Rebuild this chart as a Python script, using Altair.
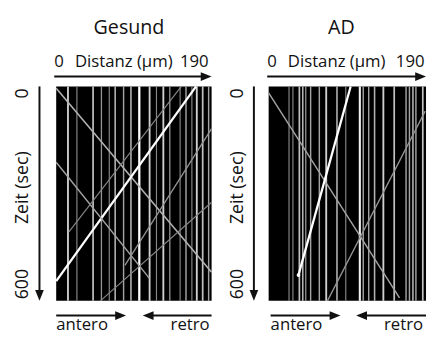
import altair as alt
import pandas as pd

FONT = "Open Sans"

panel_titles = ["Gesund", "AD"]
x_label_parts = ["0", "Distanz (µm)", "190"]
y_label_parts = ["0", "Zeit (sec)", "600"]
dir_labels = ["antero", "retro"]

dist_max = 190
time_max = 600

# stationary tracks (vertical lines): position in µm and relative intensity
gesund_stat_x = [14.4, 25.3, 45.1, 55.3, 64.9, 72.1, 82.4, 91.4, 101.6, 114.2,
                 122.6, 131.0, 138.9, 151.5, 158.7, 165.9, 171.9, 179.1, 186.4]
gesund_stat_int = [0.85, 0.6, 0.8, 0.65, 0.6, 0.75, 0.7, 0.75, 1.0, 0.85,
                   0.6, 0.85, 0.65, 0.6, 0.7, 0.6, 0.85, 0.8, 0.7]

ad_stat_x = [24.6, 29.3, 37.1, 41.2, 44.8, 50.7, 61.2, 69.5, 82.5, 93.1, 110.1,
             114.2, 120.8, 127.9, 138.5, 151.6, 165.9, 170.0, 174.2, 177.8, 186.1]
ad_stat_int = [0.6, 0.6, 0.8, 0.75, 0.65, 0.7, 0.7, 0.85, 0.75, 0.6, 0.95,
               0.7, 0.7, 0.75, 0.85, 0.8, 0.7, 0.7, 0.75, 0.7, 0.8]

# moving tracks (diagonal lines): start/end distance (µm) and time (s)
gesund_move_x0 = [0, 0, 0, 15.6, 190, 190]
gesund_move_t0 = [5, 545, 212, 407, 118, 324]
gesund_move_x1 = [190, 171, 114, 153, 84, 54]
gesund_move_t1 = [520, 0, 537, 0, 501, 600]
gesund_move_int = [0.75, 1.0, 0.7, 0.6, 0.65, 0.6]

ad_move_x0 = [0, 36, 189]
ad_move_t0 = [18, 528, 69]
ad_move_x1 = [158, 99, 71]
ad_move_t1 = [592, 0, 600]
ad_move_int = [0.7, 1.0, 0.65]

# visible particle at the start of the bright AD track
ad_spot_x = [ad_move_x0[1]]
ad_spot_t = [ad_move_t0[1]]


def stat_df(xs, ints):
    return pd.DataFrame({"x": xs, "t0": [0] * len(xs), "t1": [time_max] * len(xs), "intensity": ints})


def move_df(x0, t0, x1, t1, ints):
    return pd.DataFrame({"x0": x0, "t0": t0, "x1": x1, "t1": t1, "intensity": ints})


dummy = pd.DataFrame({"d": [0]})

RIGHT_ARROW = "M -1 -0.8 L 1 0 L -1 0.8 Z"
LEFT_ARROW = "M 1 -0.8 L -1 0 L 1 0.8 Z"
DOWN_ARROW = "M -0.8 -1 L 0 1 L 0.8 -1 Z"


def txt(s, x, y, size=17, align="left", angle=0):
    return alt.Chart(dummy).mark_text(
        text=s, align=align, baseline="alphabetic", fontSize=size, font=FONT,
        angle=angle, color="#111111"
    ).encode(x=alt.value(x), y=alt.value(y))


def seg(x1, y1, x2, y2):
    return alt.Chart(dummy).mark_rule(color="#111111", strokeWidth=2).encode(
        x=alt.value(x1), y=alt.value(y1), x2=alt.value(x2), y2=alt.value(y2))


def head(shape, x, y, size=121):
    return alt.Chart(dummy).mark_point(
        shape=shape, size=size, filled=True, color="#111111", opacity=1, strokeWidth=0
    ).encode(x=alt.value(x), y=alt.value(y))


xscale = alt.Scale(domain=[0, dist_max], nice=False, zero=False)
yscale = alt.Scale(domain=[0, time_max], reverse=True, nice=False)
cscale = alt.Scale(domain=[0.5, 1.0], range=["#6a6a6a", "#ffffff"])
wscale = alt.Scale(domain=[0.5, 1.0], range=[0.9, 2.3])


def panel(title, sdf, mdf, w, h, g, anchor=False, spots=None):
    stat = alt.Chart(sdf).mark_rule().encode(
        x=alt.X("x:Q", scale=xscale, axis=None),
        y=alt.Y("t0:Q", scale=yscale, axis=None),
        y2="t1:Q",
        color=alt.Color("intensity:Q", scale=cscale, legend=None),
        strokeWidth=alt.StrokeWidth("intensity:Q", scale=wscale, legend=None),
    )
    move = alt.Chart(mdf).mark_rule().encode(
        x=alt.X("x0:Q", scale=xscale, axis=None),
        x2="x1:Q",
        y=alt.Y("t0:Q", scale=yscale, axis=None),
        y2="t1:Q",
        color=alt.Color("intensity:Q", scale=cscale, legend=None),
        strokeWidth=alt.StrokeWidth("intensity:Q", scale=wscale, legend=None),
    )
    layers = [stat, move]
    if spots is not None:
        layers.append(alt.Chart(spots).mark_circle(size=14, color="white", opacity=1).encode(
            x=alt.X("x:Q", scale=xscale, axis=None),
            y=alt.Y("t:Q", scale=yscale, axis=None)))
    # title
    layers.append(txt(title, g["tx"], -53, size=20, align="center"))
    # top distance label + arrow
    layers.append(txt(x_label_parts[0], g["x0"], -20))
    layers.append(txt(x_label_parts[1], g["x0"] + 21, -20))
    layers.append(txt(x_label_parts[2], g["x190"], -20, align="right"))
    layers.append(seg(g["x0"], -10, w - 8, -10))
    layers.append(head(RIGHT_ARROW, w - 5.5, -10))
    # vertical time arrow + labels
    layers.append(seg(g["ax"], 0, g["ax"], h - 8))
    layers.append(head(DOWN_ARROW, g["ax"], h - 5.5))
    layers.append(txt(y_label_parts[0], g["yb"], 7, size=18, align="center", angle=270))
    layers.append(txt(y_label_parts[1], g["yb"], 103, size=18, align="center", angle=270))
    layers.append(txt(y_label_parts[2], g["yb"], 201, size=18, align="center", angle=270))
    # direction arrows + labels
    by = 233
    layers.append(seg(g["a0"], by, g["a0"] + 64, by))
    layers.append(head(RIGHT_ARROW, g["a0"] + 65.5, by))
    layers.append(seg(w, by, g["r1"] + 6, by))
    layers.append(head(LEFT_ARROW, g["r1"] + 5.5, by))
    layers.append(txt(dir_labels[0], g["a0"], 248))
    layers.append(txt(dir_labels[1], g["rt"], 248, align="right"))
    if anchor:
        layers.append(alt.Chart(dummy).mark_rule(strokeOpacity=0, strokeWidth=0.01).encode(
            x=alt.value(-49), x2=alt.value(-47), y=alt.value(-77), y2=alt.value(-77)))
    return alt.layer(*layers).properties(width=w, height=h)


left = panel(panel_titles[0],
             stat_df(gesund_stat_x, gesund_stat_int),
             move_df(gesund_move_x0, gesund_move_t0, gesund_move_x1, gesund_move_t1, gesund_move_int),
             158, 218,
             dict(tx=74, x0=-2, x190=155, ax=-17, yb=-29, a0=0, r1=88, rt=156),
             anchor=True)
right = panel(panel_titles[1],
              stat_df(ad_stat_x, ad_stat_int),
              move_df(ad_move_x0, ad_move_t0, ad_move_x1, ad_move_t1, ad_move_int),
              160, 218,
              dict(tx=74, x0=-1.5, x190=158.5, ax=-15, yb=-26, a0=2, r1=89, rt=157),
              spots=pd.DataFrame({"x": ad_spot_x, "t": ad_spot_t}))

chart = alt.hconcat(left, right, spacing=58, bounds="flush").properties(
    padding=0, background="white"
).configure_view(fill="black", strokeWidth=0).resolve_scale(x="independent", y="independent")

chart.save("out.html", embed_options={"renderer": "svg", "actions": False})
